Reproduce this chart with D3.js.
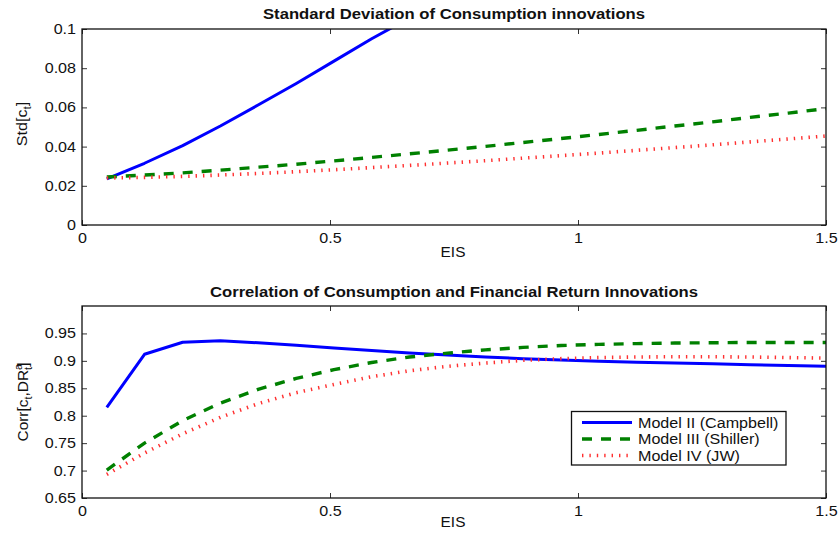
<!DOCTYPE html>
<html><head><meta charset="utf-8">
<script src="https://cdn.jsdelivr.net/npm/d3@7"></script>
<style>body{margin:0;background:#fff}svg{display:block}text{font-family:"Liberation Sans",Arial,sans-serif;fill:#111}</style>
</head><body>
<svg id="c" width="840" height="540"></svg>
<script>
// ---- data ----
const eis = [0.05,0.126,0.203,0.279,0.355,0.432,0.508,0.584,0.66,0.737,0.813,0.889,0.966,1.042,1.118,1.195,1.271,1.347,1.424,1.5];
const stdCampbell = [0.0235,0.0315,0.0405,0.0505,0.0612,0.0722,0.0836,0.095,0.1056];
const stdShiller  = [0.0245,0.0255,0.0266,0.028,0.0295,0.031,0.0327,0.0345,0.0363,0.0382,0.0401,0.0421,0.0441,0.0462,0.0483,0.0505,0.0526,0.0549,0.0571,0.0594];
const stdJW       = [0.024,0.0243,0.0248,0.0255,0.0263,0.0272,0.0282,0.0293,0.0304,0.0316,0.0328,0.0341,0.0354,0.0367,0.0381,0.0395,0.0409,0.0424,0.0439,0.0454];
const corrCampbell = [0.815,0.912,0.934,0.9365,0.933,0.9285,0.9235,0.919,0.9145,0.9105,0.907,0.904,0.9015,0.8995,0.8975,0.896,0.8945,0.893,0.8915,0.89];
const corrShiller  = [0.701,0.750,0.791,0.823,0.848,0.868,0.884,0.897,0.907,0.914,0.920,0.9245,0.928,0.930,0.9315,0.9325,0.933,0.9335,0.9335,0.9335];
const corrJW       = [0.693,0.732,0.767,0.797,0.822,0.842,0.857,0.871,0.882,0.890,0.896,0.901,0.904,0.906,0.907,0.9075,0.9075,0.907,0.906,0.905];
const xTicks = [0,0.5,1,1.5];
const xTickLabels = ["0","0.5","1","1.5"];
const topYTicks = [0,0.02,0.04,0.06,0.08,0.1];
const topYTickLabels = ["0","0.02","0.04","0.06","0.08","0.1"];
const botYTicks = [0.65,0.7,0.75,0.8,0.85,0.9,0.95];
const botYTickLabels = ["0.65","0.7","0.75","0.8","0.85","0.9","0.95"];
const seriesNames = ["Model II (Campbell)","Model III (Shiller)","Model IV (JW)"];
const titles = ["Standard Deviation of Consumption innovations","Correlation of Consumption and Financial Return Innovations"];

// ---- styles ----
const styles = [
  {color:"#0000ff", width:3, dash:null},
  {color:"#008000", width:3.4, dash:"10,9"},
  {color:"#ff3030", width:3.6, dash:"1.4,6"}
];
const STRETCH = 1.15;
function stretch(sel, f){
  sel.each(function(){
    const w = this.getComputedTextLength();
    d3.select(this).attr("textLength", w*(f||STRETCH)).attr("lengthAdjust","spacingAndGlyphs");
  });
}

const svg = d3.select("#c");
const L = 82, R = 826;
const panels = [
  {top:29, bottom:225, domain:[0,0.1], ticks:topYTicks, labels:topYTickLabels, data:[stdCampbell,stdShiller,stdJW], titleY:18.5, titleW:382, eisY:257},
  {top:306, bottom:498, domain:[0.65,1.0], ticks:botYTicks, labels:botYTickLabels, data:[corrCampbell,corrShiller,corrJW], titleY:296.5, titleW:488, eisY:527}
];
const x = d3.scaleLinear().domain([0,1.5]).range([L,R]);

panels.forEach((p,i)=>{
  const y = d3.scaleLinear().domain(p.domain).range([p.bottom,p.top]);
  const g = svg.append("g");
  const cid = "clip"+i;
  svg.append("clipPath").attr("id",cid).append("rect").attr("x",L).attr("y",p.top).attr("width",R-L).attr("height",p.bottom-p.top);

  // lines
  const line = d3.line().x((d,k)=>x(eis[k])).y(d=>y(d));
  p.data.forEach((arr,s)=>{
    g.append("path").datum(arr).attr("d",line).attr("fill","none")
      .attr("clip-path",`url(#${cid})`)
      .attr("stroke",styles[s].color).attr("stroke-width",styles[s].width)
      .attr("stroke-dasharray",styles[s].dash).attr("stroke-linejoin","round");
  });

  // axes
  const axL = d3.axisLeft(y).tickValues(p.ticks).tickFormat((d,k)=>p.labels[k]).tickSize(-5).tickPadding(6);
  const axR = d3.axisRight(y).tickValues(p.ticks).tickFormat("").tickSize(-5);
  const axB = d3.axisBottom(x).tickValues(xTicks).tickFormat((d,k)=>xTickLabels[k]).tickSize(-5).tickPadding(8);
  const axT = d3.axisTop(x).tickValues(xTicks).tickFormat("").tickSize(-5);
  const gl = g.append("g").attr("transform",`translate(${L},0)`).call(axL);
  const gr = g.append("g").attr("transform",`translate(${R},0)`).call(axR);
  const gb = g.append("g").attr("transform",`translate(0,${p.bottom})`).call(axB);
  const gt = g.append("g").attr("transform",`translate(0,${p.top})`).call(axT);
  [gl,gr,gb,gt].forEach(a=>{
    a.select(".domain").remove();
    a.selectAll(".tick line").attr("stroke","#333").attr("stroke-width",1);
    a.selectAll("text").style("font-family","Liberation Sans, Arial, sans-serif").attr("font-size",14).attr("fill","#111");
  });
  stretch(gl.selectAll("text")); stretch(gb.selectAll("text"));
  g.append("rect").attr("x",L).attr("y",p.top).attr("width",R-L).attr("height",p.bottom-p.top)
    .attr("fill","none").attr("stroke","#111").attr("stroke-width",1.3);

  // title
  svg.append("text").attr("x",(L+R)/2).attr("y",p.titleY).attr("text-anchor","middle")
    .attr("font-size",14).attr("font-weight","bold").text(titles[i])
    .attr("textLength",p.titleW).attr("lengthAdjust","spacingAndGlyphs");
  // x label
  const ex = svg.append("text").attr("x",(L+R)/2 - 1).attr("y",p.eisY).attr("text-anchor","middle").attr("font-size",14).text("EIS");
  stretch(ex,1.1);
});

// y labels
const yl1 = svg.append("text").attr("transform",`translate(27,124) rotate(-90) scale(1.15,1)`).attr("text-anchor","middle").attr("font-size",14);
yl1.append("tspan").text("Std[c");
yl1.append("tspan").attr("font-size",10).attr("dy",4).text("t");
yl1.append("tspan").attr("dy",-4).text("]");

const yl2 = svg.append("text").attr("transform",`translate(28,402) rotate(-90) scale(1.1,1)`).attr("text-anchor","middle").attr("font-size",14);
yl2.append("tspan").text("Corr[c");
yl2.append("tspan").attr("font-size",10).attr("dy",4).text("t");
yl2.append("tspan").attr("dy",-4).text(",DR");
yl2.append("tspan").attr("font-size",10).attr("dy",-6).text("a");
yl2.append("tspan").attr("font-size",10).attr("dx",-5.5).attr("dy",10).text("t");
yl2.append("tspan").attr("dy",-4).text("]");

// legend
const lg = svg.append("g");
lg.append("rect").attr("x",571.5).attr("y",411.5).attr("width",214.5).attr("height",53.5)
  .attr("fill","#fff").attr("stroke","#111").attr("stroke-width",1.3);
const rowY = [422.5,439,455.5];
seriesNames.forEach((n,s)=>{
  lg.append("line").attr("x1",582).attr("x2",632).attr("y1",rowY[s]).attr("y2",rowY[s])
    .attr("stroke",styles[s].color).attr("stroke-width",styles[s].width).attr("stroke-dasharray",styles[s].dash);
  const t = lg.append("text").attr("x",638).attr("y",rowY[s]+5).attr("font-size",14).text(n);
  stretch(t);
});
</script>
</body></html>
